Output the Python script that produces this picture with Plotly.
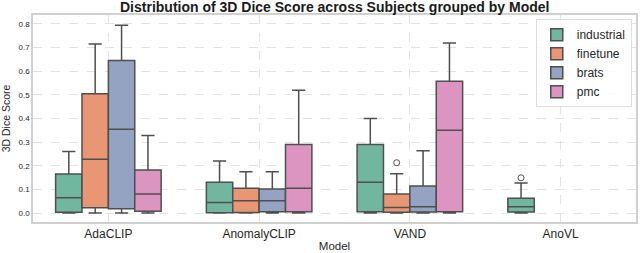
import plotly.graph_objects as go

models = ["AdaCLIP", "AnomalyCLIP", "VAND", "AnoVL"]
subjects = ["industrial", "finetune", "brats", "pmc"]
colors = ["#71b7a0", "#e99675", "#95a3c3", "#db95c0"]

# per subject: stats per model (None = no data)
lowerfence = {
    "industrial": [0.0, 0.0, 0.0, 0.0],
    "finetune":   [0.0, 0.0, 0.0, None],
    "brats":      [0.0, 0.0, 0.0, None],
    "pmc":        [0.0, 0.0, 0.0, None],
}
q1 = {
    "industrial": [0.003, 0.001, 0.005, 0.004],
    "finetune":   [0.022, 0.002, 0.003, None],
    "brats":      [0.018, 0.005, 0.004, None],
    "pmc":        [0.008, 0.005, 0.005, None],
}
median = {
    "industrial": [0.065, 0.045, 0.130, 0.027],
    "finetune":   [0.228, 0.052, 0.023, None],
    "brats":      [0.355, 0.052, 0.027, None],
    "pmc":        [0.080, 0.105, 0.350, None],
}
q3 = {
    "industrial": [0.165, 0.130, 0.290, 0.062],
    "finetune":   [0.505, 0.105, 0.080, None],
    "brats":      [0.645, 0.102, 0.114, None],
    "pmc":        [0.182, 0.290, 0.558, None],
}
upperfence = {
    "industrial": [0.260, 0.220, 0.400, 0.127],
    "finetune":   [0.715, 0.175, 0.166, None],
    "brats":      [0.795, 0.175, 0.263, None],
    "pmc":        [0.328, 0.520, 0.720, None],
}
# outliers: (subject, model, value)
outliers = [("finetune", "VAND", 0.213), ("industrial", "AnoVL", 0.149)]

group_width = 0.7
n = len(subjects)
bw = group_width / n

def offset(j):
    return -group_width / 2 + bw * (j + 0.5)

fig = go.Figure()
for j, s in enumerate(subjects):
    xs, a, b, c, d, e = [], [], [], [], [], []
    for i, m in enumerate(models):
        if median[s][i] is None:
            continue
        xs.append(i + offset(j))
        a.append(lowerfence[s][i]); b.append(q1[s][i]); c.append(median[s][i])
        d.append(q3[s][i]); e.append(upperfence[s][i])
    fig.add_trace(go.Box(
        x=xs, lowerfence=a, q1=b, median=c, q3=d, upperfence=e,
        name=s, width=bw, fillcolor=colors[j],
        line=dict(color="#4f4f4f", width=1.5), whiskerwidth=0.5,
        boxpoints=False,
    ))

for s, m, v in outliers:
    j = subjects.index(s); i = models.index(m)
    fig.add_trace(go.Scatter(
        x=[i + offset(j)], y=[v], mode="markers", showlegend=False,
        marker=dict(symbol="circle-open", size=6, color="#4f4f4f", line=dict(width=1)),
        hoverinfo="skip",
    ))

font = "Liberation Sans, Arial, sans-serif"
fig.update_layout(
    width=640, height=253,
    margin=dict(l=33, r=2, t=15, b=31),
    paper_bgcolor="white", plot_bgcolor="white",
    font=dict(family=font, color="#262626"),
    title=dict(text="<b>Distribution of 3D Dice Score across Subjects grouped by Model</b>",
               x=0.523, xanchor="center", y=0.99, yanchor="top",
               font=dict(size=14, color="#1a1a1a")),
    legend=dict(x=0.993, xanchor="right", y=0.98, yanchor="top",
                bgcolor="rgba(255,255,255,0.85)", bordercolor="#dddddd", borderwidth=1,
                font=dict(size=12), tracegroupgap=0, itemwidth=30),
    showlegend=True,
)
fig.update_xaxes(
    range=[-0.5, len(models) - 0.5], tickvals=list(range(len(models))), ticktext=models,
    showgrid=True, gridcolor="#e3e3e3", griddash="dash", gridwidth=1,
    showline=True, linecolor="#d0d0d0", linewidth=1.5, mirror=True,
    zeroline=False, tickfont=dict(size=12), ticks="",
    title=dict(text="Model", font=dict(size=11.5), standoff=2),
)
fig.update_yaxes(
    range=[-0.038, 0.838], tickvals=[0, 0.1, 0.2, 0.3, 0.4, 0.5, 0.6, 0.7, 0.8],
    tickformat=".1f",
    showgrid=True, gridcolor="#e3e3e3", griddash="dash", gridwidth=1,
    showline=True, linecolor="#d0d0d0", linewidth=1.5, mirror=True,
    zeroline=False, tickfont=dict(size=8), ticks="",
    title=dict(text="3D Dice Score", font=dict(size=10.5), standoff=6),
)
fig.write_html("out.html", config={"displayModeBar": False},
               post_script="document.body.style.margin='0';")
